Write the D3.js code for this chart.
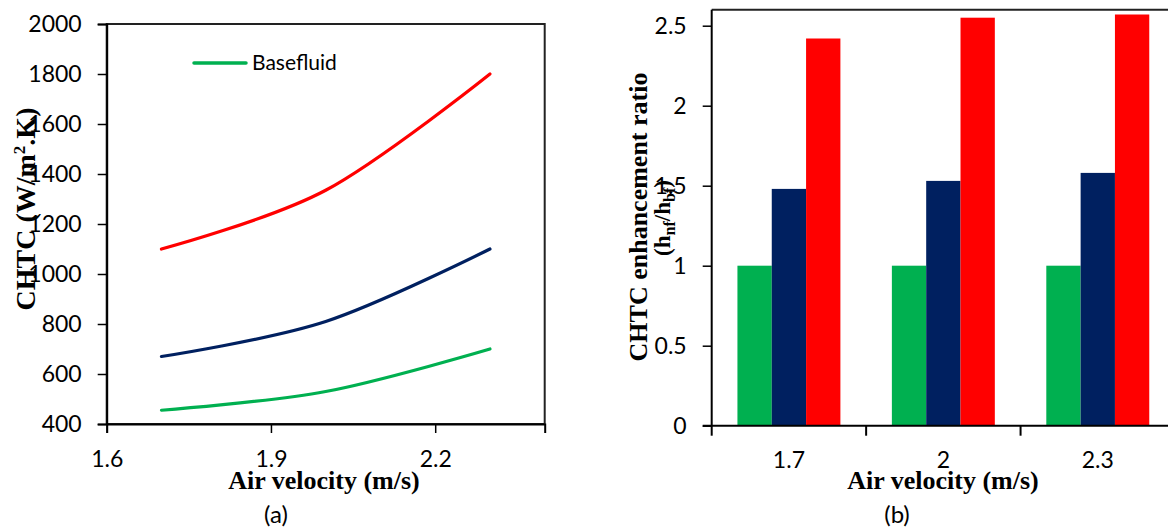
<!DOCTYPE html>
<meta charset="utf-8">
<style>
body { margin: 0; background: #fff; }
.tick text { font-family: Lato, "Noto Sans", sans-serif; fill: #000; }
.title { font-family: "Liberation Serif", "Times New Roman", serif; font-weight: bold; fill: #000; }
.cap { font-family: Lato, "Noto Sans", sans-serif; fill: #000; }
</style>
<body>
<script src="https://cdn.jsdelivr.net/npm/d3@7/dist/d3.min.js"></script>
<script>
// data
var velocity = [1.7, 2.0, 2.3];
var baseCHTC = [455, 530, 700];
var midCHTC = [670, 810, 1100];
var topCHTC = [1100, 1335, 1800];

var barCats = ["1.7", "2", "2.3"];
var baseRatio = [1, 1, 1];
var midRatio = [1.48, 1.53, 1.58];
var topRatio = [2.42, 2.55, 2.57];

var colors = ["#00b050", "#002060", "#ff0000"];
var leftYTicks = [400, 600, 800, 1000, 1200, 1400, 1600, 1800, 2000];
var leftXTicks = [1.6, 1.9, 2.2];
var rightYTicks = [0, 0.5, 1, 1.5, 2, 2.5];

var W = 1168, H = 529;
var svg = d3.select("body").append("svg")
    .attr("width", W)
    .attr("height", H);

// ---------- (a) line chart ----------
var xa = d3.scaleLinear().domain([1.6, 2.4]).range([106.7, 544.7]);
var ya = d3.scaleLinear().domain([400, 2000]).range([424, 24]);

svg.append("rect")
    .attr("x", xa(1.6)).attr("y", ya(2000))
    .attr("width", xa(2.4) - xa(1.6)).attr("height", ya(400) - ya(2000))
    .attr("fill", "none").attr("stroke", "#222").attr("stroke-width", 2);

var gy = svg.append("g")
    .attr("transform", "translate(" + xa(1.6) + ",0)")
    .call(d3.axisLeft(ya).tickValues(leftYTicks).tickSize(9).tickPadding(16).tickFormat(d3.format("d")));
var gx = svg.append("g")
    .attr("transform", "translate(0," + ya(400) + ")")
    .call(d3.axisBottom(xa).tickValues(leftXTicks).tickSize(9).tickPadding(18).tickFormat(d3.format(".1f")));

[gx, gy].forEach(function(g) {
  g.select(".domain").attr("stroke", "#000").attr("stroke-width", 2);
  g.selectAll(".tick line").attr("stroke", "#000").attr("stroke-width", 1.5);
  g.selectAll(".tick text").style("font-size", "23px");
});

var line = d3.line()
    .x(function(d) { return xa(d[0]); })
    .y(function(d) { return ya(d[1]); })
    .curve(d3.curveCatmullRom.alpha(0));

[baseCHTC, midCHTC, topCHTC].forEach(function(s, i) {
  svg.append("path")
      .datum(velocity.map(function(v, j) { return [v, s[j]]; }))
      .attr("d", line)
      .attr("fill", "none")
      .attr("stroke", colors[i])
      .attr("stroke-width", 3.2)
      .attr("stroke-linecap", "round");
});

// legend
svg.append("line")
    .attr("x1", 194).attr("x2", 246).attr("y1", 63).attr("y2", 63)
    .attr("stroke", colors[0]).attr("stroke-width", 3.5).attr("stroke-linecap", "round");
svg.append("text").attr("class", "cap")
    .attr("x", 252).attr("y", 70)
    .style("font-size", "21px")
    .text("Basefluid");

svg.append("text").attr("class", "title")
    .attr("x", 324).attr("y", 489)
    .attr("text-anchor", "middle")
    .style("font-size", "26px")
    .text("Air velocity (m/s)");

var lt = svg.append("text").attr("class", "title")
    .attr("transform", "translate(35,209) rotate(-90)")
    .attr("text-anchor", "middle")
    .style("font-size", "28px");
lt.append("tspan").text("CHTC (W/m");
lt.append("tspan").attr("dy", -10).style("font-size", "17px").text("2");
lt.append("tspan").attr("dy", 10).text(".K)");

svg.append("text").attr("class", "cap")
    .attr("x", 276).attr("y", 523)
    .attr("text-anchor", "middle")
    .style("font-size", "24px")
    .text("(a)");

// ---------- (b) bar chart ----------
var xb = d3.scaleBand().domain(barCats).range([711.7, 1175]);
var xs = d3.scaleBand().domain([0, 1, 2]).range([0, xb.bandwidth()]).paddingOuter(0.75);
var yb = d3.scaleLinear().domain([0, 2.6]).range([425.7, 9.7]);

var ratios = [baseRatio, midRatio, topRatio];
barCats.forEach(function(c, j) {
  svg.append("g")
      .attr("transform", "translate(" + xb(c) + ",0)")
    .selectAll("rect")
      .data(ratios.map(function(s, i) { return {i: i, v: s[j]}; }))
    .enter().append("rect")
      .attr("x", function(d) { return xs(d.i); })
      .attr("y", function(d) { return yb(d.v); })
      .attr("width", xs.bandwidth())
      .attr("height", function(d) { return yb(0) - yb(d.v); })
      .attr("fill", function(d) { return colors[d.i]; });
});

// frame top
svg.append("line")
    .attr("x1", 711.7).attr("x2", 1175).attr("y1", yb(2.6)).attr("y2", yb(2.6))
    .attr("stroke", "#222").attr("stroke-width", 2);

var gyb = svg.append("g")
    .attr("transform", "translate(711.7,0)")
    .call(d3.axisLeft(yb).tickValues(rightYTicks).tickSize(9).tickPadding(16).tickFormat(d3.format("")));
gyb.select(".domain").attr("d", "M0," + yb(0) + "V" + yb(2.6)).attr("stroke", "#000").attr("stroke-width", 2);

var gxb = svg.append("g")
    .attr("transform", "translate(0," + yb(0) + ")")
    .call(d3.axisBottom(xb).tickSize(0).tickPadding(26));
gxb.select(".domain").attr("d", "M702.7,0H1175").attr("stroke", "#000").attr("stroke-width", 2);
gxb.selectAll(".bound")
    .data(barCats)
  .enter().append("line")
    .attr("class", "bound")
    .attr("x1", function(c) { return xb(c); })
    .attr("x2", function(c) { return xb(c); })
    .attr("y1", 0).attr("y2", 10)
    .attr("stroke", "#000").attr("stroke-width", 2);

[gxb, gyb].forEach(function(g) {
  g.selectAll(".tick line").attr("stroke", "#000").attr("stroke-width", 1.5);
  g.selectAll(".tick text").style("font-size", "23px");
});

svg.append("text").attr("class", "title")
    .attr("x", 943).attr("y", 489)
    .attr("text-anchor", "middle")
    .style("font-size", "26px")
    .text("Air velocity (m/s)");

svg.append("text").attr("class", "title")
    .attr("transform", "translate(647,217) rotate(-90)")
    .attr("text-anchor", "middle")
    .style("font-size", "26px")
    .text("CHTC enhancement ratio");

var rt = svg.append("text").attr("class", "title")
    .attr("transform", "translate(670,218) rotate(-90)")
    .attr("text-anchor", "middle")
    .style("font-size", "23px");
rt.append("tspan").text("(h");
rt.append("tspan").attr("dy", 5).style("font-size", "16px").text("nf");
rt.append("tspan").attr("dy", -5).text("/h");
rt.append("tspan").attr("dy", 5).style("font-size", "16px").text("bf");
rt.append("tspan").attr("dy", -5).text(")");

svg.append("text").attr("class", "cap")
    .attr("x", 897).attr("y", 523)
    .attr("text-anchor", "middle")
    .style("font-size", "24px")
    .text("(b)");
</script>
</body>
